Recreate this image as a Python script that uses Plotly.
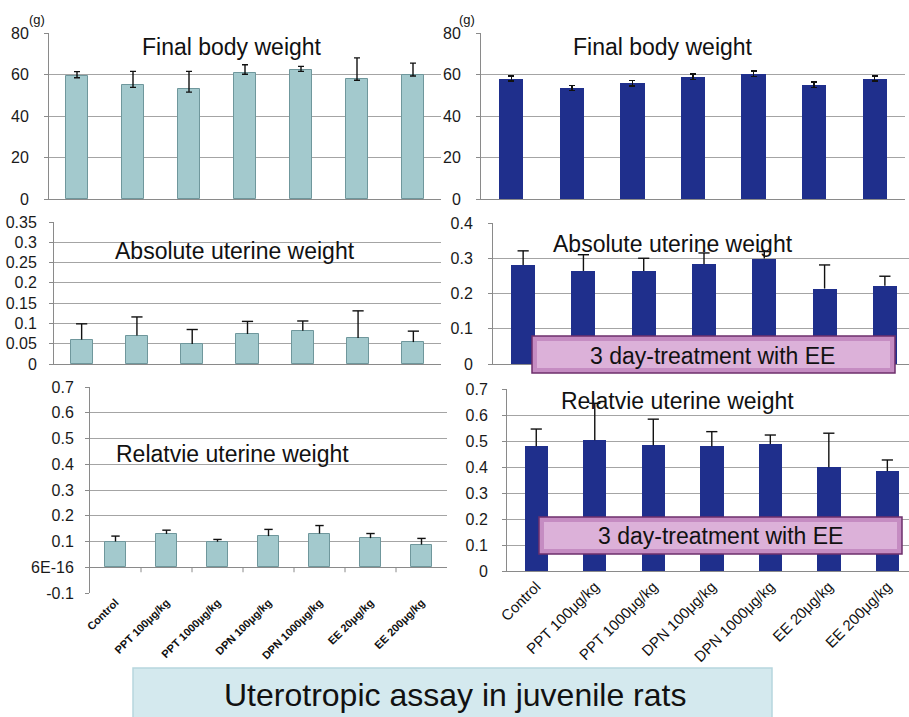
import plotly.graph_objects as go

# ---- data -------------------------------------------------------------
categories = ["Control", "PPT 100μg/kg", "PPT 1000μg/kg", "DPN 100μg/kg",
              "DPN 1000μg/kg", "EE 20μg/kg", "EE 200μg/kg"]

# Final body weight (g)
body_left = [59.4, 55.0, 52.8, 60.7, 62.0, 58.0, 59.7]
body_left_err_up = [2.0, 6.5, 8.7, 4.0, 1.9, 10.0, 5.8]
body_left_err_down = [1.0, 1.2, 1.3, 0.6, 0.5, 0.8, 0.4]
body_right = [58.0, 53.5, 55.7, 59.0, 60.4, 55.0, 58.0]
body_right_err = [1.2, 1.2, 1.3, 1.3, 1.3, 1.3, 1.2]

# Absolute uterine weight (g)
abs_left = [0.060, 0.070, 0.049, 0.074, 0.082, 0.064, 0.054]
abs_left_err = [0.039, 0.046, 0.036, 0.031, 0.024, 0.067, 0.027]
abs_right = [0.281, 0.264, 0.264, 0.283, 0.299, 0.214, 0.222]
abs_right_err = [0.040, 0.046, 0.036, 0.032, 0.020, 0.067, 0.027]

# Relative uterine weight
rel_left = [0.100, 0.129, 0.099, 0.121, 0.131, 0.113, 0.088]
rel_left_err = [0.021, 0.015, 0.009, 0.026, 0.031, 0.018, 0.024]
rel_right = [0.480, 0.503, 0.484, 0.479, 0.488, 0.399, 0.384]
rel_right_err = [0.066, 0.142, 0.100, 0.057, 0.035, 0.131, 0.043]

# tick labels
ticks_body = [0, 20, 40, 60, 80]
ticks_abs_left = [0, 0.05, 0.1, 0.15, 0.2, 0.25, 0.3, 0.35]
ticks_abs_left_text = ["0", "0.05", "0.1", "0.15", "0.2", "0.25", "0.3", "0.35"]
ticks_abs_right = [0, 0.1, 0.2, 0.3, 0.4]
ticks_rel_left = [-0.1, 0, 0.1, 0.2, 0.3, 0.4, 0.5, 0.6, 0.7]
ticks_rel_left_text = ["-0.1", "6E-16", "0.1", "0.2", "0.3", "0.4", "0.5", "0.6", "0.7"]
ticks_rel_right = [0, 0.1, 0.2, 0.3, 0.4, 0.5, 0.6, 0.7]

# ---- layout helpers ---------------------------------------------------
W, H = 909, 717
FONT = "Arial, Liberation Sans, sans-serif"
LIGHT = "#a3c9cd"
LIGHT_EDGE = "#6f979c"
NAVY = "#1f2f8c"
GRID = "#a4a4a4"
AXIS = "#8a8a8a"
INK = "#111111"


def px_x(p):
    return p / W


def px_y(p):
    return 1 - p / H


# pixel boxes of the six plot areas: (left, right, top, bottom)
panels = {
    1: (49, 441, 33, 199),
    2: (481, 905, 33, 199),
    3: (54, 441, 222, 364),
    4: (493, 909, 223, 364),
    5: (90, 447, 387, 593),
    6: (507, 909, 389, 571),
}
x_ranges = {1: [-0.5, 6.5], 2: [-0.5, 6.5], 3: [-0.5, 6.5],
            4: [-0.5, 6.40], 5: [-0.5, 6.5], 6: [-0.5, 6.37]}
standoff = {1: 12, 2: 12, 3: 9, 4: 12, 5: 8, 6: 11}

fig = go.Figure()
xs = list(range(len(categories)))


def ax(k, letter):
    return letter if k == 1 else f"{letter}{k}"


def add_bars(k, vals, color, edge, error=None):
    fig.add_trace(go.Bar(
        x=xs, y=vals, width=0.4,
        marker=dict(color=color, line=dict(color=edge, width=1 if edge else 0)),
        error_y=error, xaxis=ax(k, "x"), yaxis=ax(k, "y"), showlegend=False,
        hoverinfo="skip"))


def add_upper_err(k, vals, errs, cap):
    sx, sy = [], []
    for i, (v, e) in enumerate(zip(vals, errs)):
        sx += [i, i, None]
        sy += [v, v + e, None]
    fig.add_trace(go.Scatter(x=sx, y=sy, mode="lines",
                             line=dict(color=INK, width=1.4),
                             xaxis=ax(k, "x"), yaxis=ax(k, "y"),
                             showlegend=False, hoverinfo="skip"))
    fig.add_trace(go.Scatter(x=xs, y=[v + e for v, e in zip(vals, errs)],
                             mode="markers",
                             marker=dict(symbol="line-ew", size=cap,
                                         line=dict(color=INK, width=1.4)),
                             xaxis=ax(k, "x"), yaxis=ax(k, "y"),
                             showlegend=False, hoverinfo="skip"))


# body weight
add_bars(1, body_left, LIGHT, LIGHT_EDGE,
         dict(type="data", symmetric=False, array=body_left_err_up,
              arrayminus=body_left_err_down, color=INK, thickness=1.4, width=3))
add_bars(2, body_right, NAVY, None,
         dict(type="data", array=body_right_err, color=INK, thickness=1.4, width=3))
# absolute uterine weight
add_bars(3, abs_left, LIGHT, LIGHT_EDGE)
add_upper_err(3, abs_left, abs_left_err, 8)
add_bars(4, abs_right, NAVY, None)
add_upper_err(4, abs_right, abs_right_err, 8)
# relative uterine weight
add_bars(5, rel_left, LIGHT, LIGHT_EDGE)
add_upper_err(5, rel_left, rel_left_err, 6)
add_bars(6, rel_right, NAVY, None)
add_upper_err(6, rel_right, rel_right_err, 8)

y_specs = {
    1: dict(range=[0, 80], tickvals=ticks_body),
    2: dict(range=[0, 80], tickvals=ticks_body),
    3: dict(range=[0, 0.35], tickvals=ticks_abs_left, ticktext=ticks_abs_left_text),
    4: dict(range=[0, 0.4], tickvals=ticks_abs_right,
            ticktext=[f"{v:g}" for v in ticks_abs_right]),
    5: dict(range=[-0.1, 0.7], tickvals=ticks_rel_left, ticktext=ticks_rel_left_text),
    6: dict(range=[0, 0.7], tickvals=ticks_rel_right,
            ticktext=[f"{v:g}" for v in ticks_rel_right]),
}

layout = dict(
    width=W, height=H, margin=dict(l=0, r=0, t=0, b=0, autoexpand=False),
    paper_bgcolor="white", plot_bgcolor="white",
    font=dict(family=FONT, color=INK), bargap=0,
)

for k, (l, r, t, b) in panels.items():
    xa = dict(domain=[px_x(l), px_x(r)], anchor=ax(k, "y"), range=x_ranges[k],
              tickmode="array", tickvals=xs, ticktext=categories,
              showgrid=False, zeroline=False, ticks="", fixedrange=True,
              automargin=False)
    if k == 5:
        xa.update(showticklabels=True, tickangle=-45,
                  tickfont=dict(size=11, color=INK, weight="bold"))
    elif k == 6:
        xa.update(showticklabels=True, tickangle=-45,
                  tickfont=dict(size=15, color=INK))
    else:
        xa.update(showticklabels=False)
    xa.update(showline=(k != 5), linecolor=AXIS, linewidth=1)
    ya = dict(domain=[px_y(b), px_y(t)], anchor=ax(k, "x"),
              tickmode="array", showgrid=True, gridcolor=GRID, gridwidth=1,
              zeroline=(k == 5), zerolinecolor=AXIS, zerolinewidth=1,
              showline=True, linecolor=AXIS, linewidth=1,
              ticks="outside", ticklen=4, tickcolor=AXIS,
              ticklabelstandoff=standoff[k], automargin=False,
              tickfont=dict(size=16, color="#1a1a1a"), fixedrange=True)
    ya.update(y_specs[k])
    layout["xaxis" if k == 1 else f"xaxis{k}"] = xa
    layout["yaxis" if k == 1 else f"yaxis{k}"] = ya

shapes = []
# category boundary tick marks on the zero line of the bottom panels
for k in (5, 6):
    for i in range(len(categories) - 1):
        bx = i + 0.5
        if bx < x_ranges[k][1]:
            shapes.append(dict(type="line", xref=ax(k, "x"), yref=ax(k, "y"),
                               x0=bx, x1=bx, ysizemode="pixel", yanchor=0,
                               y0=0, y1=-5, line=dict(color=AXIS, width=1)))


# treatment boxes and the caption banner
def box(l, t, r, b, fill, edge, inner=None):
    shapes.append(dict(type="rect", xref="paper", yref="paper",
                       x0=px_x(l), x1=px_x(r), y0=px_y(b), y1=px_y(t),
                       fillcolor=fill, line=dict(color=edge, width=1.5),
                       layer="above"))
    if inner:
        shapes.append(dict(type="rect", xref="paper", yref="paper",
                           x0=px_x(l + 5), x1=px_x(r - 5), y0=px_y(b - 5), y1=px_y(t + 5),
                           fillcolor=inner, line=dict(width=0), layer="above"))


box(532, 336, 895, 373, "#c58cc2", "#6e2f6c", "#dcb1d9")
box(539, 517, 902, 554, "#c58cc2", "#6e2f6c", "#dcb1d9")
box(133, 668, 772, 722, "#d4e9ee", "#b7d6de")
layout["shapes"] = shapes


def label(text, xp, yp, size, xanchor="center"):
    return dict(text=text, x=px_x(xp), y=px_y(yp), xref="paper", yref="paper",
                xanchor=xanchor, yanchor="middle", showarrow=False,
                font=dict(family=FONT, size=size, color=INK))


annotations = [
    label("Final body weight", 232, 47, 23),
    label("Final body weight", 663, 47, 23),
    label("Absolute uterine weight", 235, 251, 23),
    label("Absolute uterine weight", 673, 244, 23),
    label("Relatvie uterine weight", 232, 454, 23),
    label("Relatvie uterine weight", 677, 401, 23),
    label("(g)", 27, 20, 13, "left"),
    label("(g)", 457, 20, 13, "left"),
    label("3 day-treatment with EE", 712, 356, 23),
    label("3 day-treatment with EE", 720, 536, 23),
    label("Uterotropic assay in juvenile rats", 455, 695, 32),
]
layout["annotations"] = annotations

fig.update_layout(**layout)
fig.write_html("out.html")
